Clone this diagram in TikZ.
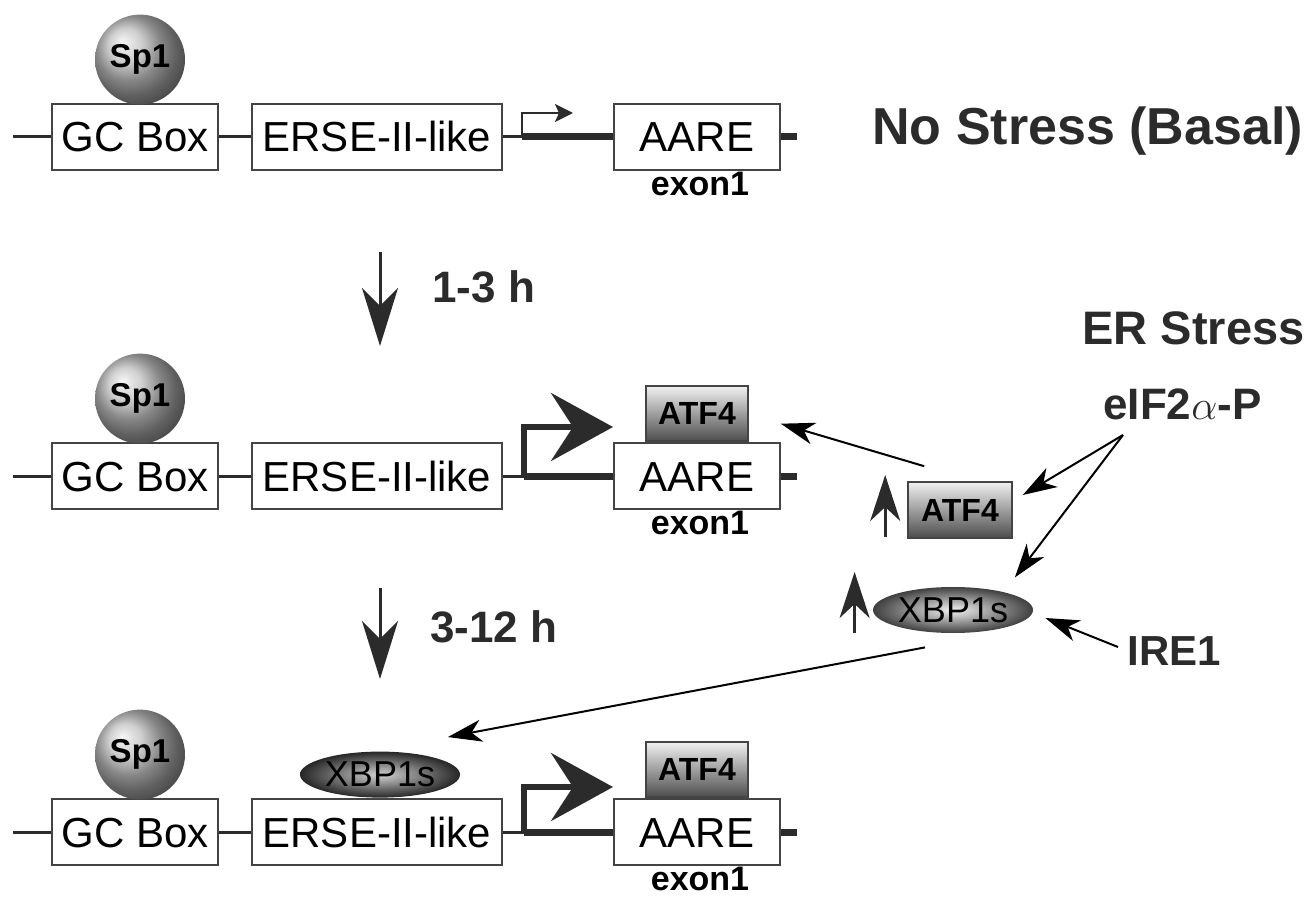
\documentclass[tikz,border=0pt]{standalone}
\usepackage{fontspec}
\setmainfont{Liberation Sans}
\usepackage{tikz}
\usetikzlibrary{arrows.meta,positioning,shapes.geometric,shadings}
\definecolor{ink}{HTML}{2B2B2B}
\definecolor{boxline}{HTML}{444444}

\begin{document}
\begin{tikzpicture}[
          x=0.5pt, y=-0.5pt,
          node distance = 0pt,
          gene/.style = {draw=boxline, line width=1pt, fill=white, inner sep=0pt,
                         minimum height=33pt, text height=15pt, text depth=0pt,
                         font=\fontsize{21}{24}\selectfont},
          sp/.style = {circle, shading=ball, ball color=gray!50, minimum size=45pt,
                       inner sep=0pt, font=\bfseries\fontsize{16.5}{18}\selectfont},
          atf/.style = {draw=boxline, line width=0.8pt, top color=gray!12,
                        bottom color=black!70, minimum width=51pt, minimum height=27.5pt,
                        inner sep=0pt, font=\bfseries\fontsize{16}{18}\selectfont},
          xbp/.style = {ellipse, shading=radial, inner color=gray!10, outer color=black!75,
                        minimum width=80pt, minimum height=23pt, inner sep=0pt,
                        font=\fontsize{18}{20}\selectfont},
          exon/.style = {font=\bfseries\fontsize{17}{19}\selectfont, inner sep=0.5pt},
          lbl/.style = {font=\bfseries\fontsize{22}{26}\selectfont, inner sep=0pt, text=ink},
          dna/.style = {draw=ink, line width=1.5pt},
          thickdna/.style = {draw=ink, line width=3.5pt},
          tss/.style = {draw=ink, line width=1.2pt, -{Stealth[length=9pt,width=9pt,inset=2pt]}},
          bigtss/.style = {draw=ink, line width=3pt, line join=miter,
                           -{Stealth[length=31pt,width=34pt,inset=11pt]}},
          timearr/.style = {draw=ink, line width=1.5pt, -{Stealth[length=29pt,width=18pt,inset=9pt]}},
          uparr/.style = {draw=ink, line width=1.5pt, -{Stealth[length=23pt,width=15pt,inset=7pt]}},
          arr/.style = {draw=black, line width=1pt, -{Stealth[length=17pt,width=11pt,inset=5pt]}},
        ]
        \useasboundingbox (0,0) rectangle (1311,898);

        % no stress
        \node[gene, minimum width=83pt] (gc1) at (135,137) {GC Box};
        \node[gene, minimum width=125pt] (erse1) at (377,137) {ERSE-II-like};
        \node[gene, minimum width=83pt] (aare1) at (697,137) {AARE};
        \node[sp, above=-1pt of gc1, xshift=2.5pt] (sp1) {Sp1};
        \node[exon, below=0pt of aare1, xshift=1.5pt] (ex1) {exon1};
        \coordinate (in1) at (13,137);
        \coordinate (tss1) at (522,137);
        \coordinate (out1) at (797,137);
        \draw[dna] (in1) -- (gc1.west) (gc1.east) -- (erse1.west) (erse1.east) -- (tss1);
        \draw[thickdna] (tss1) -- (aare1.west) (aare1.east) -- (out1);
        \draw[tss] (tss1) -- ++(0,-24) -- ++(51,0);
        \node[lbl, font=\bfseries\fontsize{26}{30}\selectfont, anchor=base west] (basal) at (872,145) {No Stress (Basal)};

        % 1-3 h
        \node[gene, minimum width=83pt] (gc2) at (135,476) {GC Box};
        \node[gene, minimum width=125pt] (erse2) at (377,476) {ERSE-II-like};
        \node[gene, minimum width=83pt] (aare2) at (697,476) {AARE};
        \node[sp, above=-1pt of gc2, xshift=2.5pt] (sp2) {Sp1};
        \node[atf, above=0pt of aare2] (atf2) {ATF4};
        \node[exon, below=0pt of aare2, xshift=1.5pt] (ex2) {exon1};
        \coordinate (in2) at (13,476);
        \coordinate (tss2) at (524,476);
        \coordinate (out2) at (797,476);
        \draw[dna] (in2) -- (gc2.west) (gc2.east) -- (erse2.west) (erse2.east) -- (tss2);
        \draw[thickdna] (tss2) -- (aare2.west) (aare2.east) -- (out2);
        \draw[bigtss] (tss2) -- ++(0,-49) -- ++(89,0);

        % 3-12 h
        \node[gene, minimum width=83pt] (gc3) at (135,832) {GC Box};
        \node[gene, minimum width=125pt] (erse3) at (377,832) {ERSE-II-like};
        \node[gene, minimum width=83pt] (aare3) at (697,832) {AARE};
        \node[sp, above=-1pt of gc3, xshift=2.5pt] (sp3) {Sp1};
        \node[xbp, above=0pt of erse3, xshift=1.5pt, inner color=gray!35, outer color=black!85] (xbp3) {XBP1s};
        \node[atf, above=0pt of aare3] (atf3) {ATF4};
        \node[exon, below=0pt of aare3, xshift=1.5pt] (ex3) {exon1};
        \coordinate (in3) at (13,832);
        \coordinate (tss3) at (524,832);
        \coordinate (out3) at (797,832);
        \draw[dna] (in3) -- (gc3.west) (gc3.east) -- (erse3.west) (erse3.east) -- (tss3);
        \draw[thickdna] (tss3) -- (aare3.west) (aare3.east) -- (out3);
        \draw[bigtss] (tss3) -- ++(0,-45) -- ++(89,0);

        % time steps
        \node[lbl, anchor=base west] (t1) at (432,303) {1-3 h};
        \node[lbl, anchor=base west] (t2) at (430,642) {3-12 h};
        \draw[timearr] ([shift={(3,81)}]erse1.south) -- ([shift={(3,-96)}]erse2.north);
        \draw[timearr] ([shift={(3,78)}]erse2.south) -- ([shift={(3,-119)}]erse3.north);

        % ER stress side
        \node[lbl, font=\bfseries\fontsize{23.5}{28}\selectfont, anchor=base east] (er) at (1305,345) {ER Stress};
        \node[lbl, anchor=base west] (eif) at (1103,420) {eIF2$\alpha$-P};
        \node[lbl, font=\bfseries\fontsize{21}{25}\selectfont, anchor=base west] (ire) at (1127,665) {IRE1};
        \node[atf, minimum width=52pt, minimum height=28pt] (atfm) at (960,510) {ATF4};
        \node[xbp] (xbpm) at (953,610) {XBP1s};

        \draw[uparr] ([shift={(-22,27)}]atfm.west) -- ++(0,-62);
        \draw[uparr] ([shift={(-18,23)}]xbpm.west) -- ++(0,-61);
        \draw[arr] ([shift={(20,15)}]eif.base west) -- ([shift={(10,-15)}]atfm.east);
        \draw[arr] ([shift={(20,15)}]eif.base west) -- ([shift={(5,-16)}]xbpm.north east);
        \draw[arr] ([shift={(-9,-18)}]ire.base west) -- ([shift={(12,8)}]xbpm.east);
        \draw[arr] ([shift={(17,-15)}]atfm.north west) -- ([shift={(32,10)}]atf2.east);
        \draw[arr] ([shift={(-28,14)}]xbpm.south) -- ([shift={(11,-21)}]xbp3.north east);
      \end{tikzpicture}
\end{document}
